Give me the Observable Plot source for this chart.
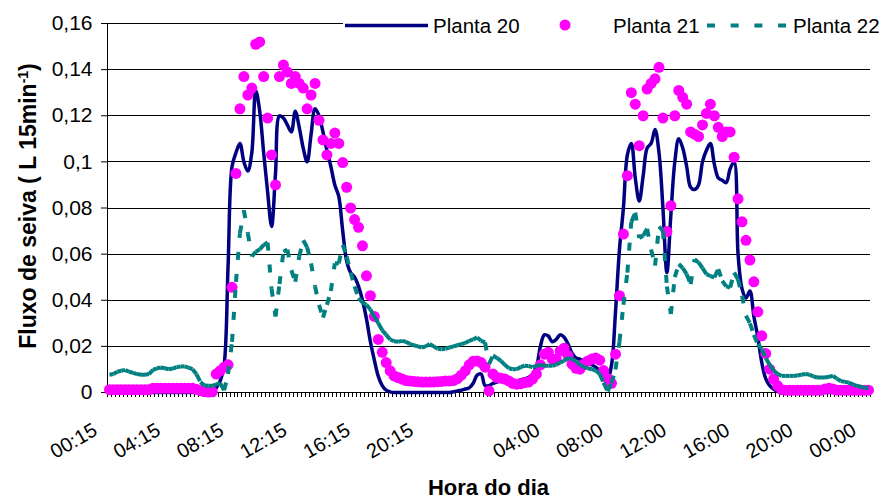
<!DOCTYPE html>
<html><head><meta charset="utf-8">
<script src="https://cdn.jsdelivr.net/npm/d3@7"></script>
<script src="https://cdn.jsdelivr.net/npm/@observablehq/plot@0.6"></script>
<style>
body{margin:0;background:#fff;}
#chart{position:relative;width:882px;height:499px;}
</style></head><body><div id="chart"></div>
<script>
// Planta 20 (line), Planta 21 (markers), Planta 22 (dashed) – one value per 15-min interval
const planta20 = [
0,0,0,0,0,0,0,0,0,0,
0,0,0,0,0,0,0,0,0,0,
0,0,0,0,0,0,0,0.002,0.005,0.012,
0.055,0.098,0.104,0.108,0.1,0.096,0.104,0.131,0.122,0.104,
0.087,0.072,0.095,0.12,0.119,0.116,0.113,0.122,0.115,0.106,
0.1,0.112,0.123,0.12,0.113,0.105,0.098,0.09,0.085,0.07,
0.057,0.052,0.05,0.046,0.04,0.032,0.022,0.014,0.007,0.003,
0.001,0.0003,0,0,0,0,0,0,0,0,
0,0,0,0,0,0,0,0.0003,0.0007,0.001,
0.0015,0.002,0.004,0.0075,0.008,0.003,0.003,0.004,0.0045,0.005,
0.005,0.005,0.005,0.005,0.0055,0.006,0.0065,0.008,0.011,0.02,
0.025,0.0245,0.022,0.023,0.025,0.024,0.021,0.017,0.015,0.0145,
0.0137,0.013,0.012,0.011,0.0095,0.008,0.006,0.012,0.035,0.062,
0.08,0.103,0.108,0.093,0.083,0.094,0.106,0.108,0.114,0.104,
0.08,0.052,0.077,0.1,0.11,0.106,0.098,0.089,0.088,0.09,
0.1,0.105,0.108,0.099,0.093,0.092,0.091,0.097,0.1,0.06,
0.045,0.041,0.044,0.033,0.024,0.013,0.006,0.003,0.0015,0.0005,
0,0,0,0,0,0,0,0,0,0,
0,0,0,0,0,0,0,0,0,0,
0,0,0];
const planta21 = [
0.0012,0.0012,0.0012,0.0012,0.0012,0.0012,0.0012,0.0012,0.0012,0.0012,
0.0012,0.0018,0.0018,0.0018,0.0018,0.0018,0.0018,0.0018,0.0018,0.0018,
0.0018,0.0018,0.0014,0.0008,0.0004,0.0002,0.0003,0.008,0.0094,0.011,
0.012,0.0456,0.095,0.123,0.137,0.129,0.132,0.151,0.152,0.137,
0.119,0.103,0.09,0.137,0.142,0.139,0.134,0.137,0.134,0.132,
0.123,0.129,0.134,0.118,0.1095,0.103,0.108,0.1125,0.108,0.0997,
0.089,0.08,0.075,0.0716,0.0636,0.0506,0.042,0.033,0.023,0.0174,
0.013,0.0094,0.0072,0.0065,0.0058,0.0052,0.005,0.0048,0.0047,0.0045,
0.0045,0.0045,0.0046,0.0047,0.0048,0.005,0.005,0.0052,0.006,0.0075,
0.0094,0.012,0.0135,0.0137,0.013,0.011,0.0007,0.008,0.0065,0.0062,
0.0058,0.005,0.004,0.0036,0.0038,0.0043,0.0045,0.0058,0.008,0.012,
0.0166,0.0174,0.0145,0.0145,0.018,0.0192,0.016,0.0123,0.0105,0.0101,
0.0123,0.0137,0.0145,0.015,0.014,0.0095,0.006,0.004,0.0166,0.042,
0.0687,0.094,0.13,0.125,0.107,0.12,0.1316,0.134,0.136,0.141,
0.119,0.0698,0.081,0.12,0.131,0.128,0.125,0.113,0.112,0.111,
0.116,0.121,0.125,0.12,0.115,0.111,0.113,0.113,0.102,0.084,
0.074,0.066,0.0574,0.048,0.035,0.0246,0.0169,0.0101,0.0058,0.0029,
0.0012,0.001,0.001,0.001,0.001,0.001,0.001,0.001,0.001,0.001,
0.001,0.0015,0.0018,0.0015,0.001,0.001,0.001,0.001,0.001,0.001,
0.001,0.001,0.001];
const planta22 = [
0.0077,0.008,0.009,0.0095,0.0097,0.009,0.0085,0.008,0.0077,0.0077,
0.008,0.0098,0.0105,0.0108,0.0105,0.0101,0.0104,0.011,0.0113,0.0113,
0.0108,0.0101,0.008,0.0045,0.003,0.0029,0.0029,0.0035,0.004,0.001,
0.008,0.022,0.048,0.069,0.079,0.069,0.059,0.061,0.062,0.064,
0.065,0.045,0.033,0.047,0.061,0.062,0.053,0.048,0.059,0.066,
0.063,0.056,0.046,0.038,0.0325,0.038,0.044,0.056,0.056,0.064,
0.059,0.052,0.046,0.041,0.039,0.038,0.036,0.033,0.03,0.027,
0.025,0.023,0.0222,0.022,0.0224,0.022,0.021,0.0205,0.02,0.0195,
0.02,0.021,0.02,0.019,0.0188,0.019,0.0195,0.02,0.0205,0.021,
0.0215,0.0224,0.023,0.0239,0.0224,0.0217,0.0123,0.016,0.015,0.0137,
0.012,0.0105,0.0101,0.0101,0.011,0.0116,0.0115,0.011,0.0115,0.012,
0.0116,0.0116,0.0116,0.012,0.013,0.0137,0.015,0.0145,0.0137,0.012,
0.011,0.0105,0.0101,0.0095,0.008,0.0043,0.0005,0.004,0.01,0.022,
0.038,0.052,0.074,0.078,0.067,0.068,0.071,0.062,0.055,0.072,
0.07,0.046,0.034,0.05,0.0557,0.054,0.0513,0.047,0.0578,0.0564,
0.054,0.0513,0.0505,0.0499,0.0535,0.0484,0.046,0.0455,0.052,0.049,
0.042,0.0333,0.03,0.025,0.021,0.0188,0.015,0.012,0.0095,0.008,
0.0072,0.0072,0.0072,0.0072,0.0074,0.0077,0.008,0.0078,0.007,0.0065,
0.0065,0.0065,0.0068,0.0072,0.006,0.005,0.0046,0.0043,0.0035,0.0029,
0.0025,0.002,0.002];
const tickIndex = [0,16,32,48,64,80,112,128,144,160,176,192];
const tickLabels = ["00:15","04:15","08:15","12:15","16:15","20:15","04:00","08:00","12:00","16:00","20:00","00:00"];
const yTicks = [0,0.02,0.04,0.06,0.08,0.1,0.12,0.14,0.16];
const seriesNames = ["Planta 20","Planta 21","Planta 22"];
const colors = ["#000080","#ff00ff","#008080"];

const n = planta20.length;
const rows = d3.range(n).map(i => ({i, p20: planta20[i], p21: planta21[i]}));
const segs = d3.range(n - 1).map(i => ({x1: i, y1: planta22[i], x2: i + 1, y2: planta22[i + 1]}));
const fmtY = d => d === 0 ? "0" : String(+d.toFixed(2)).replace(".", ",");
const font = "Arial, 'Liberation Sans', sans-serif";

const svg = Plot.plot({
  width: 882, height: 499,
  marginLeft: 107, marginRight: 12, marginTop: 23, marginBottom: 107,
  style: {fontFamily: font, fontSize: "20px", color: "#000", background: "#fff", overflow: "visible"},
  x: {type: "linear", domain: [-0.5, n - 0.5]},
  y: {domain: [0, 0.16]},
  marks: [
    Plot.ruleY(yTicks.filter(d => d > 0), {stroke: "#000", strokeWidth: 1, shapeRendering: "crispEdges"}),
    Plot.axisY({ticks: yTicks, tickSize: 6, tickPadding: 9, tickFormat: fmtY, label: null, fontSize: 21}),
    Plot.axisX({ticks: d3.range(n + 1).map(i => i - 0.5), tickSize: 5, tickFormat: () => "", label: null, shapeRendering: "crispEdges"}),
    Plot.axisX({ticks: tickIndex, tickSize: 0, tickPadding: 36, tickRotate: -30, dx: -14, fontSize: 20,
      tickFormat: i => tickLabels[tickIndex.indexOf(i)], label: null}),
    Plot.ruleX([-0.5], {stroke: "#000", shapeRendering: "crispEdges"}),
    Plot.ruleY([0], {stroke: "#000", shapeRendering: "crispEdges"}),
    Plot.line(rows, {x: "i", y: "p20", stroke: colors[0], strokeWidth: 3.5, curve: "catmull-rom"}),
    Plot.dot(rows, {x: "i", y: "p21", r: 5.5, fill: colors[1], stroke: "none"}),
    Plot.link(segs, {x1: "x1", y1: "y1", x2: "x2", y2: "y2", stroke: colors[2], strokeWidth: 4, strokeDasharray: "8,14"})
  ]
});
document.getElementById("chart").appendChild(svg);

const s = d3.select(svg);
// axis titles
const yt = s.append("text")
  .attr("transform", "translate(36,206) rotate(-90)")
  .attr("text-anchor", "middle").attr("font-family", font)
  .attr("font-weight", "bold").attr("font-size", 23).attr("fill", "#000");
yt.append("tspan").text("Fluxo de seiva ( L 15min");
yt.append("tspan").attr("dy", "-0.55em").attr("font-size", 14).text("-1");
yt.append("tspan").attr("dy", "0.35em").text(")");
s.append("text").attr("x", 488.5).attr("y", 494.5).attr("text-anchor", "middle")
  .attr("font-family", font).attr("font-weight", "bold").attr("font-size", 22).attr("fill", "#000")
  .text("Hora do dia");

// legend
const lg = s.append("g").attr("font-family", font).attr("font-size", 20.5).attr("fill", "#000").attr("text-anchor", "start");
lg.append("rect").attr("x", 343).attr("y", 5).attr("width", 539).attr("height", 36).attr("fill", "#fff");
lg.append("line").attr("x1", 345).attr("x2", 428).attr("y1", 25.5).attr("y2", 25.5)
  .attr("stroke", colors[0]).attr("stroke-width", 3.5);
lg.append("text").attr("x", 433).attr("y", 32.5).attr("text-anchor", "start").text(seriesNames[0]);
lg.append("circle").attr("cx", 565).attr("cy", 25).attr("r", 5.5).attr("fill", colors[1]);
lg.append("text").attr("x", 613).attr("y", 32.5).attr("text-anchor", "start").text(seriesNames[1]);
lg.append("line").attr("x1", 707).attr("x2", 788).attr("y1", 25.5).attr("y2", 25.5)
  .attr("stroke", colors[2]).attr("stroke-width", 4).attr("stroke-dasharray", "8,15.7");
lg.append("text").attr("x", 793).attr("y", 32.5).attr("text-anchor", "start").text(seriesNames[2]);
</script></body></html>
